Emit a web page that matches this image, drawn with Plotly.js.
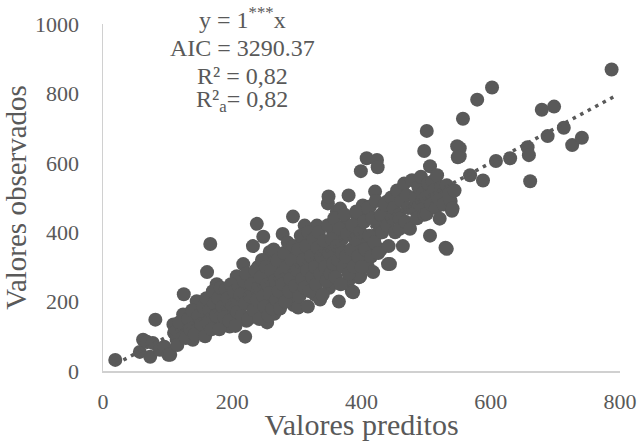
<!DOCTYPE html>
<html>
<head>
<meta charset="utf-8">
<script src="https://cdn.plot.ly/plotly-3.0.1.min.js"></script>
<style>html,body{margin:0;padding:0;background:#fff;}#chart{width:640px;height:441px;}</style>
</head>
<body>
<div id="chart"></div>
<script>
// Valores preditos (x) and valores observados (y)
const preditos = [
 19,57,62,68,73,77,81,88,95,101,104,109,114,120,124,125,124,130,139,140,145,150,155,161,161,166,170,175,176,180,185,186,190,192,196,200,205,207,210,212,217,220,222,225,230,232,232,232,235,238,238,238,240,245,248,250,254,255,258,258,260,262,265,268,270,275,278,278,280,284,289,290,294,294,295,298,302,305,305,310,312,315,317,320,325,328,331,331,335,336,340,342,346,348,350,351,355,356,356,360,362,365,367,367,370,371,375,380,382,385,387,390,394,396,398,399,400,402,402,402,405,408,410,413,418,418,421,424,424,425,428,430,435,439,441,444,
 110,115,118,128,132,135,138,142,148,152,155,158,160,162,165,168,170,172,175,178,180,182,185,188,190,193,195,198,200,203,205,208,210,
 212,215,218,220,222,225,228,230,233,236,238,240,242,244,246,248,250,252,255,256,258,260,262,264,266,268,270,272,274,276,278,280,282,284,286,288,290,292,295,297,300,
 302,304,306,308,310,312,314,316,318,320,322,324,326,328,330,332,334,336,338,340,342,344,346,348,350,352,354,356,358,360,362,364,366,368,370,372,374,376,378,380,
 384,386,388,390,392,395,398,400,404,406,410,412,415,417,420,422,426,430,432,436,440,442,446,448,450,
 452,455,458,459,459,462,464,466,468,470,472,475,478,480,483,486,488,490,492,495,497,500,501,503,506,506,508,510,512,515,517,518,521,524,527,530,532,535,538,540,541,544,
 787,602,579,557,679,698,688,713,726,741,657,659,630,608,568,588,661,552,552,501,497,548,549,532,380,349
];
const observados = [
 32,55,90,84,41,81,148,61,70,47,47,134,90,100,119,221,163,105,90,130,201,115,150,119,285,366,148,130,250,170,140,227,200,177,128,160,215,273,180,198,308,99,145,240,190,198,265,360,220,157,256,424,300,175,387,230,140,280,256,343,200,310,165,240,270,330,302,395,210,255,285,350,227,445,190,310,183,331,270,380,419,250,186,300,343,220,294,419,360,206,265,320,372,483,240,314,290,256,401,340,460,200,352,468,380,302,420,260,410,230,227,330,445,270,273,576,360,381,439,477,320,613,300,474,285,343,517,395,608,587,419,350,460,488,308,308,
 110,75,140,95,150,120,175,105,160,135,185,100,210,140,175,120,230,195,160,210,120,240,185,155,235,210,145,250,190,230,130,170,245,
 220,160,260,195,280,150,215,250,175,290,205,240,150,270,320,215,185,300,250,160,225,290,180,350,260,205,320,230,180,280,250,340,200,300,370,230,265,320,360,245,290,
 350,215,390,265,320,240,360,290,400,230,330,270,380,300,250,355,400,280,330,220,375,300,260,420,340,280,380,310,440,270,360,320,410,250,340,300,450,330,395,280,
 350,420,300,380,460,330,400,300,430,350,470,390,330,440,370,490,340,450,400,480,420,360,500,440,470,
 400,520,450,439,410,490,360,540,430,506,470,410,550,468,500,440,530,480,560,512,450,500,453,540,390,590,480,546,520,470,564,500,439,530,480,355,535,510,490,462,468,520,
 869,817,782,727,753,762,677,701,651,672,645,622,613,605,564,549,547,642,619,692,634,648,616,352,506,503
];
const lineX = [20, 790];
const lineY = [20, 790];
const xTicks = [0, 200, 400, 600, 800];
const yTicks = [0, 200, 400, 600, 800, 1000];
const statLines = ['y = 1<sup>***</sup>x', 'AIC = 3290.37', 'R² = 0,82', 'R²<sub>a</sub>= 0,82'];

const grey = '#595959';
const font = 'Liberation Serif, Times New Roman, serif';

const traces = [
  {x: preditos, y: observados, type: 'scatter', mode: 'markers',
   marker: {color: grey, size: 14, line: {width: 0}}, hoverinfo: 'skip'},
  {x: lineX, y: lineY, type: 'scatter', mode: 'lines',
   line: {color: grey, width: 3.5, dash: '3.5px,5px'}, hoverinfo: 'skip'}
];

const statY = [1.016, 0.931, 0.850, 0.778];
const annotations = statLines.map((t, i) => ({
  text: t, xref: 'paper', yref: 'paper', x: 0.269, y: statY[i],
  xanchor: 'center', yanchor: 'middle', showarrow: false,
  font: {family: font, size: 24, color: grey}
}));

const layout = {
  width: 640, height: 441,
  margin: {l: 103, r: 20, t: 24, b: 70, pad: 0},
  paper_bgcolor: '#fff', plot_bgcolor: '#fff',
  showlegend: false,
  font: {family: font, size: 22, color: grey},
  xaxis: {range: [0, 800], tickvals: xTicks, ticktext: xTicks.map(String),
          showgrid: false, zeroline: false, showline: true, linecolor: '#d0d0d0', linewidth: 1.5,
          ticks: '', ticklabelstandoff: 10, tickfont: {family: font, size: 22, color: grey},
          title: {text: 'Valores preditos', font: {family: font, size: 30, color: grey}, standoff: 7}},
  yaxis: {range: [0, 1000], tickvals: yTicks, ticktext: yTicks.map(String),
          showgrid: false, zeroline: false, showline: true, linecolor: '#d0d0d0', linewidth: 1.5,
          ticks: '', ticklabelstandoff: 18, tickfont: {family: font, size: 22, color: grey},
          title: {text: 'Valores observados', font: {family: font, size: 29, color: grey}, standoff: 8}},
  annotations: annotations
};

Plotly.newPlot('chart', traces, layout, {displayModeBar: false, staticPlot: true});
</script>
</body>
</html>
